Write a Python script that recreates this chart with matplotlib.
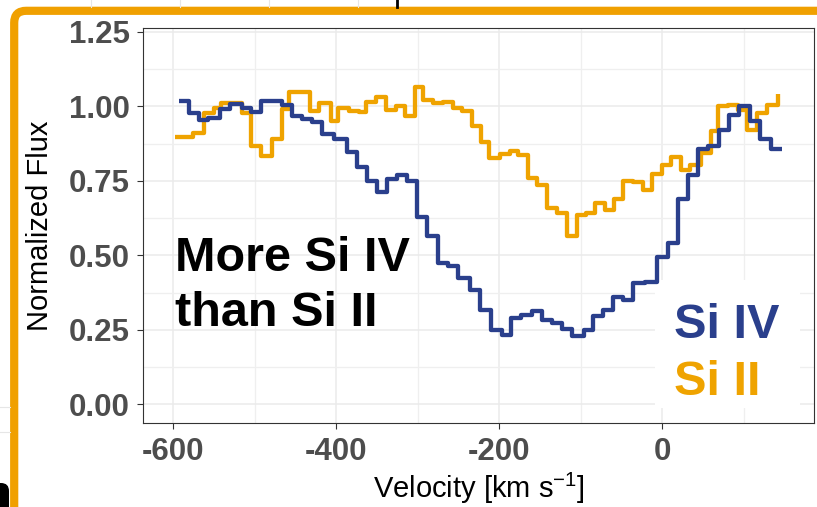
import matplotlib
matplotlib.use('Agg')
import matplotlib.pyplot as plt
from matplotlib.patches import FancyBboxPatch, Rectangle
from matplotlib.transforms import IdentityTransform

plt.rcParams['font.family'] = ['Liberation Sans', 'DejaVu Sans']
plt.rcParams['mathtext.fontset'] = 'custom'
plt.rcParams['mathtext.rm'] = 'Liberation Sans'
plt.rcParams['mathtext.default'] = 'regular'

# Si IV profile (velocity in km/s, normalized flux), drawn as a step
siiv_vel = [-593.1, -580.8, -569.2, -557.3, -543.1, -530.3, -516.5, -504.5, -492.2, -479.3,
            -466.4, -454.2, -442.5, -430.6, -418.3, -403.2, -387.6, -375.4, -363.1, -350.8,
            -338.5, -326.3, -314.0, -301.7, -289.4, -275.2, -262.9, -250.6, -236.3, -224.0,
            -210.1, -197.4, -185.3, -173.1, -160.5, -148.3, -136.0, -123.0, -110.7, -96.4,
            -84.9, -72.7, -60.4, -48.1, -35.8, -21.5, -6.1, 6.4, 18.7, 31.7,
            43.9, 56.2, 69.4, 81.6, 93.9, 107.4, 119.7, 133.2, 146.3]
siiv_flux = [1.018, 0.977, 0.955, 0.960, 0.992, 1.008, 0.994, 0.980, 1.017, 1.017,
             1.004, 0.967, 0.957, 0.948, 0.908, 0.890, 0.848, 0.798, 0.748, 0.714,
             0.756, 0.770, 0.748, 0.630, 0.566, 0.476, 0.465, 0.424, 0.385, 0.318,
             0.250, 0.234, 0.290, 0.301, 0.314, 0.284, 0.273, 0.253, 0.230, 0.248,
             0.297, 0.318, 0.360, 0.351, 0.409, 0.412, 0.494, 0.541, 0.689, 0.770,
             0.856, 0.868, 0.921, 0.971, 1.002, 0.952, 0.890, 0.857, 0.857]

# Si II profile
siii_vel = [-597.5, -575.7, -562.8, -550.5, -541.9, -516.5, -504.5, -492.2, -479.7, -467.4,
            -458.5, -432.7, -421.6, -406.9, -398.3, -384.8, -372.5, -363.9, -351.7, -339.4,
            -327.1, -316.1, -303.8, -293.4, -281.1, -269.4, -257.1, -246.1, -233.8, -223.2,
            -212.3, -199.5, -187.6, -177.0, -164.7, -153.4, -141.8, -129.9, -117.6, -105.3,
            -93.9, -83.2, -70.9, -59.3, -48.1, -35.8, -23.9, -13.3, -1.0, 10.4,
            22.7, 33.8, 47.3, 59.5, 68.5, 80.8, 93.0, 103.4, 115.6, 127.9, 141.4]
siii_flux = [0.897, 0.912, 0.978, 0.996, 1.013, 0.978, 0.868, 0.832, 0.890, 0.992,
             1.048, 0.983, 1.012, 0.952, 0.995, 0.986, 0.980, 1.015, 1.031, 0.987,
             1.003, 0.968, 1.065, 1.020, 1.010, 1.016, 0.993, 0.984, 0.934, 0.879,
             0.826, 0.839, 0.852, 0.836, 0.759, 0.735, 0.660, 0.642, 0.566, 0.636,
             0.642, 0.677, 0.651, 0.689, 0.748, 0.746, 0.721, 0.772, 0.804, 0.830,
             0.786, 0.804, 0.843, 0.918, 1.002, 1.005, 0.988, 0.921, 0.977, 1.004, 1.042]

x_ticks = [-600, -400, -200, 0]
x_ticklabels = ['-600', '-400', '-200', '0']
x_minor = [-500, -300, -100, 100]
y_ticks = [0.0, 0.25, 0.5, 0.75, 1.0, 1.25]
y_ticklabels = ['0.00', '0.25', '0.50', '0.75', '1.00', '1.25']
y_minor = [0.125, 0.375, 0.625, 0.875, 1.125]

blue = '#2A3F8C'
orange = '#EFA300'
frame_orange = '#F0A000'

fig = plt.figure(figsize=(8.17, 5.07), dpi=100)

# bits of the neighbouring panel showing round the frame
for gx in [91, 180, 269, 358]:
    fig.lines.append(plt.Line2D([gx, gx], [500, 507], transform=IdentityTransform(),
                                color='#E6E6E6', lw=0.8))
for gy in [100, 75]:
    fig.lines.append(plt.Line2D([0, 10], [gy, gy], transform=IdentityTransform(),
                                color='#E6E6E6', lw=0.8))
fig.lines.append(plt.Line2D([396.5, 396.5], [500, 507], transform=IdentityTransform(),
                            color='black', lw=2))
fig.patches.append(FancyBboxPatch((-20, -20), 29, 44, boxstyle='round,pad=0,rounding_size=8',
                                  transform=IdentityTransform(), facecolor='black',
                                  edgecolor='none'))

# orange frame
fig.patches.append(FancyBboxPatch((14.2, -60), 900, 496.2 + 60,
                                  boxstyle='round,pad=0,rounding_size=12',
                                  transform=IdentityTransform(), facecolor='none',
                                  edgecolor=frame_orange, lw=5.9))

ax = fig.add_axes([0.1754, 0.1657, 0.8215, 0.7787])
ax.set_xlim(-637, 186.5)
ax.set_ylim(-0.0625, 1.2625)

ax.set_xticks(x_ticks)
ax.set_xticklabels(x_ticklabels)
ax.set_xticks(x_minor, minor=True)
ax.set_yticks(y_ticks)
ax.set_yticklabels(y_ticklabels)
ax.set_yticks(y_minor, minor=True)
ax.set_axisbelow(True)
ax.grid(which='major', color='#EBEBEB', lw=1.1)
ax.grid(which='minor', color='#EFEFEF', lw=0.9)
ax.tick_params(which='major', length=4.3, width=0.8, color='#333333', pad=5.5,
               labelsize=22.5, labelcolor='#4D4D4D')
ax.tick_params(which='minor', length=0)
for lab in ax.get_xticklabels() + ax.get_yticklabels():
    lab.set_fontweight('bold')
for sp in ax.spines.values():
    sp.set_color('#333333')
    sp.set_linewidth(0.8)

ax.step(siiv_vel, siiv_flux, where='post', color=blue, lw=3.1,
        solid_joinstyle='round', solid_capstyle='butt', zorder=3)
ax.step(siii_vel, siii_flux, where='post', color=orange, lw=3.1,
        solid_joinstyle='round', solid_capstyle='butt', zorder=2.5)

ax.set_xlabel('Velocity [km s$^{-1}$]', fontsize=21)
ax.set_ylabel('Normalized Flux', fontsize=21)
ax.xaxis.set_label_coords(0.5, -0.122)
ax.yaxis.set_label_coords(-0.133, 0.5)

ax.text(-597.6, 0.449, 'More Si IV', fontsize=35, fontweight='bold', color='black')
ax.text(-597.6, 0.2616, 'than Si II', fontsize=35, fontweight='bold', color='black')

# legend box in the lower right corner
ax.add_patch(Rectangle((-9.2, -0.012), 178, 0.430, facecolor='white', edgecolor='none',
                       zorder=2))
ax.text(14.1, 0.2227, 'Si IV', fontsize=35, fontweight='bold', color=blue, zorder=4)
ax.text(14.1, 0.0325, 'Si II', fontsize=35, fontweight='bold', color=orange, zorder=4)

fig.savefig('out.png', dpi=100)
